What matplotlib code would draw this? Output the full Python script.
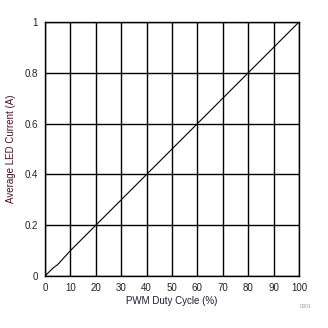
import numpy as np
import matplotlib
matplotlib.use('Agg')
import matplotlib.pyplot as plt

plt.rcParams['font.family'] = ['Liberation Sans', 'DejaVu Sans']

# Data
duty_cycle = [0, 1, 3, 5, 10, 20, 30, 40, 50, 60, 70, 80, 90, 100]
avg_current = [0.0, 0.01, 0.03, 0.045, 0.1, 0.2, 0.3, 0.4, 0.5, 0.6, 0.7, 0.8, 0.9, 1.0]

x_ticks = np.arange(0, 101, 10)
y_ticks = [0, 0.2, 0.4, 0.6, 0.8, 1]
y_tick_labels = ['0', '0.2', '0.4', '0.6', '0.8', '1']

fig = plt.figure(figsize=(3.28, 3.28), dpi=100)
ax = fig.add_axes([45/328, 1 - 276/328, 254/328, 254/328])

ax.plot(duty_cycle, avg_current, color='black', linewidth=0.8)

ax.set_xlim(0, 100)
ax.set_ylim(0, 1)
ax.set_xticks(x_ticks)
ax.set_yticks(y_ticks)
ax.set_yticklabels(y_tick_labels)
ax.grid(True, color='black', linewidth=1.0)
ax.tick_params(length=0, labelsize=7, pad=5, labelcolor='#222222')
for s in ax.spines.values():
    s.set_linewidth(1.0)
    s.set_color('black')

ax.set_xlabel('PWM Duty Cycle (%)', fontsize=7, color='#1a1a33', labelpad=2)
ax.set_ylabel('Average LED Current (A)', fontsize=7, color='#4a1020', labelpad=6)

fig.text(305/328, 1 - 307/328, 'D001', fontsize=3.5, color='#999999',
         ha='center', va='center')

plt.savefig('out.png', dpi=100)
